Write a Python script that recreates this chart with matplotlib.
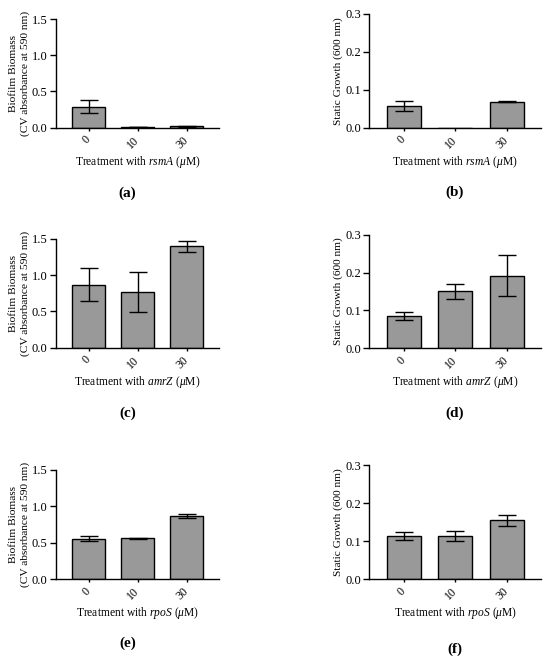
import numpy as np
import matplotlib
matplotlib.use("Agg")
import matplotlib.pyplot as plt

plt.rcParams['font.family'] = ['Liberation Serif', 'DejaVu Serif']
plt.rcParams['mathtext.fontset'] = 'custom'
plt.rcParams['mathtext.rm'] = 'Liberation Serif'
plt.rcParams['mathtext.it'] = 'Liberation Serif:italic'
plt.rcParams['mathtext.bf'] = 'Liberation Serif:bold'

doses = ['0', '10', '30']

# biofilm biomass (CV absorbance at 590 nm)
rsmA_bio = [0.29, 0.01, 0.02]
rsmA_bio_err = [0.09, 0.003, 0.005]
amrZ_bio = [0.87, 0.77, 1.40]
amrZ_bio_err = [0.225, 0.28, 0.075]
rpoS_bio = [0.555, 0.56, 0.87]
rpoS_bio_err = [0.035, 0.01, 0.025]

# static growth (600 nm)
rsmA_grow = [0.058, 0.0, 0.069]
rsmA_grow_err = [0.013, np.nan, 0.002]
amrZ_grow = [0.085, 0.151, 0.192]
amrZ_grow_err = [0.011, 0.02, 0.055]
rpoS_grow = [0.114, 0.114, 0.154]
rpoS_grow_err = [0.011, 0.013, 0.015]

W, H = 550, 664
fig = plt.figure(figsize=(W / 100, H / 100), dpi=100)

def px_axes(left, right, top, bottom):
    return fig.add_axes([left / W, 1 - bottom / H, (right - left) / W, (bottom - top) / H])

def panel(ax, vals, errs, ymax, yticks, ylabel, gene, letter, lab_xy):
    x = np.arange(len(doses))
    ax.bar(x, vals, width=0.66, color='#999999', edgecolor='black', linewidth=1.0, zorder=2)
    for xi, v, e in zip(x, vals, errs):
        if not np.isnan(e):
            ax.errorbar(xi, v, yerr=e, fmt='none', ecolor='black', elinewidth=1.0,
                        capsize=6.5, capthick=1.0, zorder=3)
    ax.set_xlim(-0.67, 2.66)
    ax.set_ylim(0, ymax)
    ax.set_yticks(yticks)
    ax.set_yticklabels(['%.1f' % t for t in yticks], fontsize=9)
    ax.set_xticks(x)
    ax.set_xticklabels(doses, rotation=45, ha='right', va='center',
                       rotation_mode='anchor', fontsize=8.5)
    ax.tick_params(axis='y', length=4, width=1, pad=2)
    ax.tick_params(axis='x', length=2.5, width=1, pad=5)
    for s in ['top', 'right']:
        ax.spines[s].set_visible(False)
    for s in ['left', 'bottom']:
        ax.spines[s].set_linewidth(1.0)
    ax.set_ylabel(ylabel, fontsize=8.2, linespacing=1.3, labelpad=1.5)
    ax.set_xlabel('Treatment with $\\mathit{%s}$ ($\\mathit{\\mu}$M)' % gene, fontsize=8.3, labelpad=2)
    fig.text(lab_xy[0] / W, 1 - lab_xy[1] / H, '(%s)' % letter, fontsize=11,
             fontweight='bold', ha='center', va='center')

bio_label = 'Biofilm Biomass\n(CV absorbance at 590 nm)'
grow_label = 'Static Growth (600 nm)'
bio_ticks = [0.0, 0.5, 1.0, 1.5]
grow_ticks = [0.0, 0.1, 0.2, 0.3]

ax = px_axes(55.7, 219, 19, 127.7)
panel(ax, rsmA_bio, rsmA_bio_err, 1.5, bio_ticks, bio_label, 'rsmA', 'a', (127, 193))
ax = px_axes(369.3, 541, 14, 127.7)
panel(ax, rsmA_grow, rsmA_grow_err, 0.3, grow_ticks, grow_label, 'rsmA', 'b', (455, 192))
ax = px_axes(55.7, 219, 239, 347.7)
panel(ax, amrZ_bio, amrZ_bio_err, 1.5, bio_ticks, bio_label, 'amrZ', 'c', (128, 413))
ax = px_axes(369.3, 541, 234.7, 348.3)
panel(ax, amrZ_grow, amrZ_grow_err, 0.3, grow_ticks, grow_label, 'amrZ', 'd', (455, 413))
ax = px_axes(55.7, 219, 470, 579)
panel(ax, rpoS_bio, rpoS_bio_err, 1.5, bio_ticks, bio_label, 'rpoS', 'e', (128, 643))
ax = px_axes(369.3, 541, 465, 579)
panel(ax, rpoS_grow, rpoS_grow_err, 0.3, grow_ticks, grow_label, 'rpoS', 'f', (455, 649))

fig.savefig('out.png', dpi=100)
